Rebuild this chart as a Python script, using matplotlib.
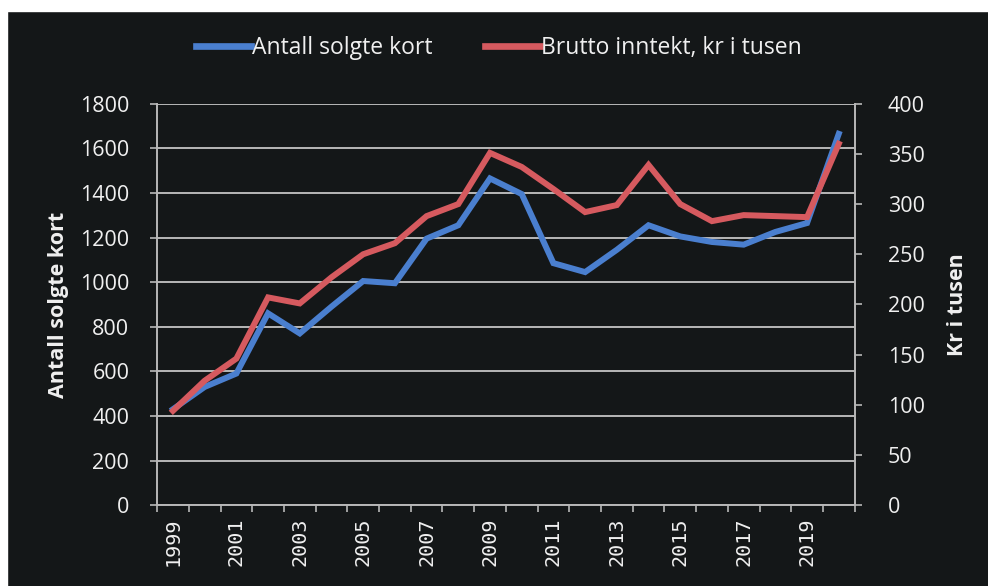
import matplotlib.pyplot as plt
from matplotlib.lines import Line2D
from matplotlib.patches import Rectangle

years = list(range(1999, 2021))
antall = [430, 530, 590, 860, 770, 890, 1005, 995, 1195, 1255, 1465, 1395, 1085, 1045, 1145, 1255, 1205, 1180, 1168, 1225, 1265, 1665]
brutto = [94, 124, 146, 207, 201, 227, 250, 261, 288, 300, 351, 337, 315, 292, 299, 339, 300, 283, 289, 288, 287, 360]

bg = '#141718'
fg = '#f0f0f0'
grey = '#b8b8b8'
blue = '#4a7fcf'
red = '#d65a5f'

fig = plt.figure(figsize=(9.88, 5.86), dpi=100, facecolor=bg)
# scanned page edges
fig.patches.append(Rectangle((0, 0.982), 1, 0.02, transform=fig.transFigure, color='white', zorder=0))
fig.patches.append(Rectangle((0, 0), 0.007, 1, transform=fig.transFigure, color='white', zorder=0))

ax = fig.add_axes([0.159, 0.138, 0.706, 0.685])
ax.set_facecolor(bg)
ax2 = ax.twinx()

x = list(range(len(years)))
ax.plot(x, antall, color=blue, lw=4.3, solid_joinstyle='miter', zorder=3)
ax2.plot(x, brutto, color=red, lw=4.3, solid_joinstyle='miter', zorder=3)

ax.set_xlim(-0.5, len(years) - 0.5)
ax.set_ylim(0, 1800)
ax2.set_ylim(0, 400)
ax.set_yticks(range(0, 1801, 200))
ax2.set_yticks(range(0, 401, 50))
ax.grid(axis='y', color=grey, lw=1.4)
ax.set_axisbelow(True)

ax.set_xticks(x[::2])
ax.set_xticklabels([str(y) for y in years[::2]], rotation=90, family='DejaVu Sans Mono', fontsize=14.5, color=fg)
ax.set_xticks([i - 0.5 for i in range(len(years) + 1)], minor=True)
ax.tick_params(axis='x', which='major', length=0, pad=9)
ax.tick_params(axis='x', which='minor', length=5, color=grey, width=1.2)

for a in (ax, ax2):
    for s in a.spines.values():
        s.set_visible(False)
    a.tick_params(axis='y', colors=fg, labelsize=15.5, length=5, width=1.2)
    for lab in a.get_yticklabels():
        lab.set_family('Open Sans')
ax.tick_params(axis='y', color=grey, pad=15)
ax2.tick_params(axis='y', color=grey, pad=19)
ax.spines['left'].set_visible(True)
ax.spines['bottom'].set_visible(True)
ax2.spines['right'].set_visible(True)
for s in (ax.spines['left'], ax.spines['bottom'], ax2.spines['right']):
    s.set_color(grey)
    s.set_linewidth(1.4)

ax.set_ylabel('Antall solgte kort', color=fg, fontsize=15.5, fontweight='bold', family='Open Sans', labelpad=8)
ax2.set_ylabel('Kr i tusen', color=fg, fontsize=15.5, fontweight='bold', family='Open Sans', labelpad=16)

handles = [Line2D([], [], color=blue, lw=4.8), Line2D([], [], color=red, lw=4.8)]
fig.legend(handles, ['Antall solgte kort', 'Brutto inntekt, kr i tusen'], loc='center',
           bbox_to_anchor=(0.505, 0.918), ncol=2, frameon=False, handlelength=2.4,
           handletextpad=0.05, columnspacing=2.3, prop={'family': 'Open Sans', 'size': 16.5},
           labelcolor=fg)

fig.savefig('out.png', dpi=100, facecolor=bg)
